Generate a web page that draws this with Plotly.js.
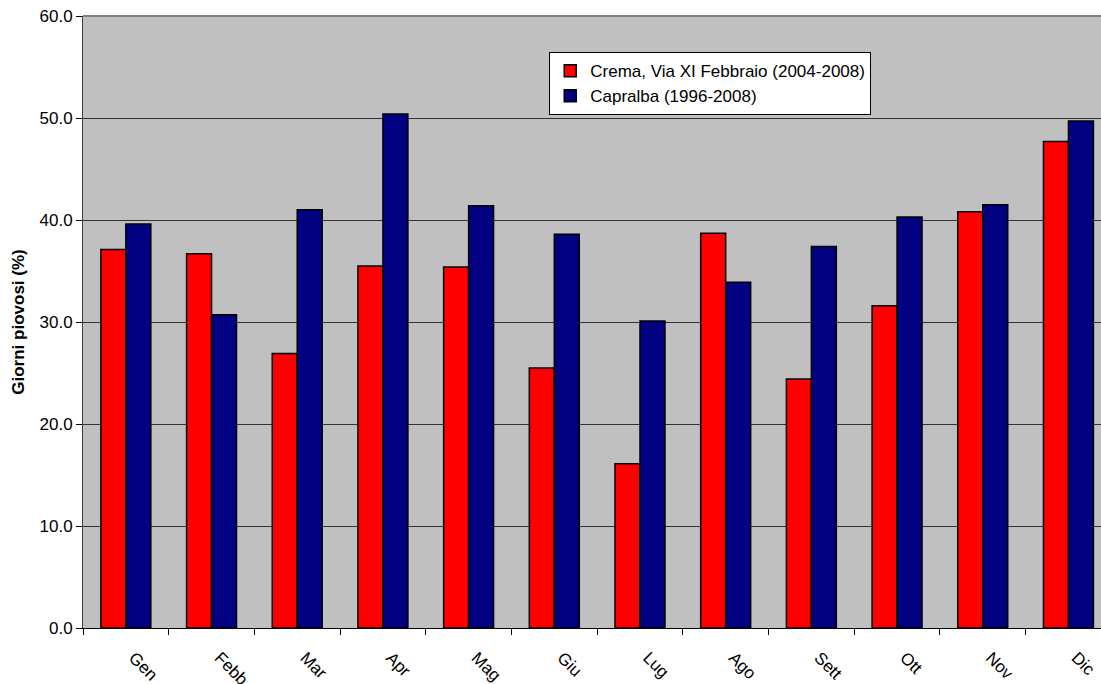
<!DOCTYPE html>
<html>
<head>
<meta charset="utf-8">
<script src="https://cdn.plot.ly/plotly-3.0.1.min.js"></script>
<style>
  html, body { margin: 0; padding: 0; background: #ffffff; overflow: hidden; }
  #chart { width: 1101px; height: 684px; }
</style>
</head>
<body>
<div id="chart"></div>
<script>
// Percentuale di giorni piovosi per mese
const mesi = ["Gen", "Febb", "Mar", "Apr", "Mag", "Giu", "Lug", "Ago", "Sett", "Ott", "Nov", "Dic"];
const crema = [37.1, 36.7, 26.9, 35.5, 35.4, 25.5, 16.1, 38.7, 24.4, 31.6, 40.8, 47.7];
const capralba = [39.6, 30.7, 41.0, 50.4, 41.4, 38.6, 30.1, 33.9, 37.4, 40.3, 41.5, 49.7];
const nomeCrema = "Crema, Via XI Febbraio (2004-2008)";
const nomeCapralba = "Capralba (1996-2008)";

const font = "Liberation Sans, Arial, sans-serif";
const fs = 17;

const traces = [
  {
    type: "bar", name: nomeCrema, x: mesi, y: crema,
    marker: { color: "#ff0000", line: { color: "#000000", width: 1.5 } },
    hoverinfo: "x+y"
  },
  {
    type: "bar", name: nomeCapralba, x: mesi, y: capralba,
    marker: { color: "#000080", line: { color: "#000000", width: 1.5 } },
    hoverinfo: "x+y"
  }
];

const layout = {
  width: 1101, height: 684,
  margin: { l: 83, r: 0, t: 16, b: 56 },
  paper_bgcolor: "#ffffff",
  plot_bgcolor: "#c0c0c0",
  font: { family: font, size: fs, color: "#000000" },
  barmode: "group",
  bargap: 0.417,
  bargroupgap: 0,
  showlegend: true,
  legend: {
    x: 0.458, y: 0.941, xanchor: "left", yanchor: "top",
    bgcolor: "#ffffff", bordercolor: "#000000", borderwidth: 1,
    font: { family: font, size: fs, color: "#000000" },
    itemwidth: 30,
    tracegroupgap: 2
  },
  xaxis: {
    type: "category",
    range: [-0.5, 11.38],
    tickangle: 45,
    ticks: "outside", ticklen: 6, tickcolor: "#000000", tickwidth: 1,
    tickson: "boundaries",
    ticklabelstandoff: 12,
    ticklabelshift: 8,
    showgrid: false,
    showline: true, linecolor: "#000000", linewidth: 1,
    tickfont: { family: font, size: fs, color: "#000000" },
    fixedrange: true
  },
  yaxis: {
    range: [0, 60],
    dtick: 10, tick0: 0,
    tickformat: ".1f",
    ticks: "outside", ticklen: 6, tickcolor: "#000000", tickwidth: 1,
    showgrid: true, gridcolor: "#333333", gridwidth: 1,
    zeroline: false,
    showline: true, linecolor: "#404040", linewidth: 1,
    tickfont: { family: font, size: fs, color: "#000000" },
    title: { text: "<b>Giorni piovosi (%)</b>", font: { family: font, size: fs, color: "#000000" }, standoff: 10 },
    fixedrange: true
  },
  shapes: [
    { type: "line", xref: "paper", yref: "paper", x0: 0, x1: 1, y0: 1, y1: 1,
      line: { color: "#808080", width: 2 } }
  ]
};

Plotly.newPlot("chart", traces, layout, { displayModeBar: false, staticPlot: true });
</script>
</body>
</html>
